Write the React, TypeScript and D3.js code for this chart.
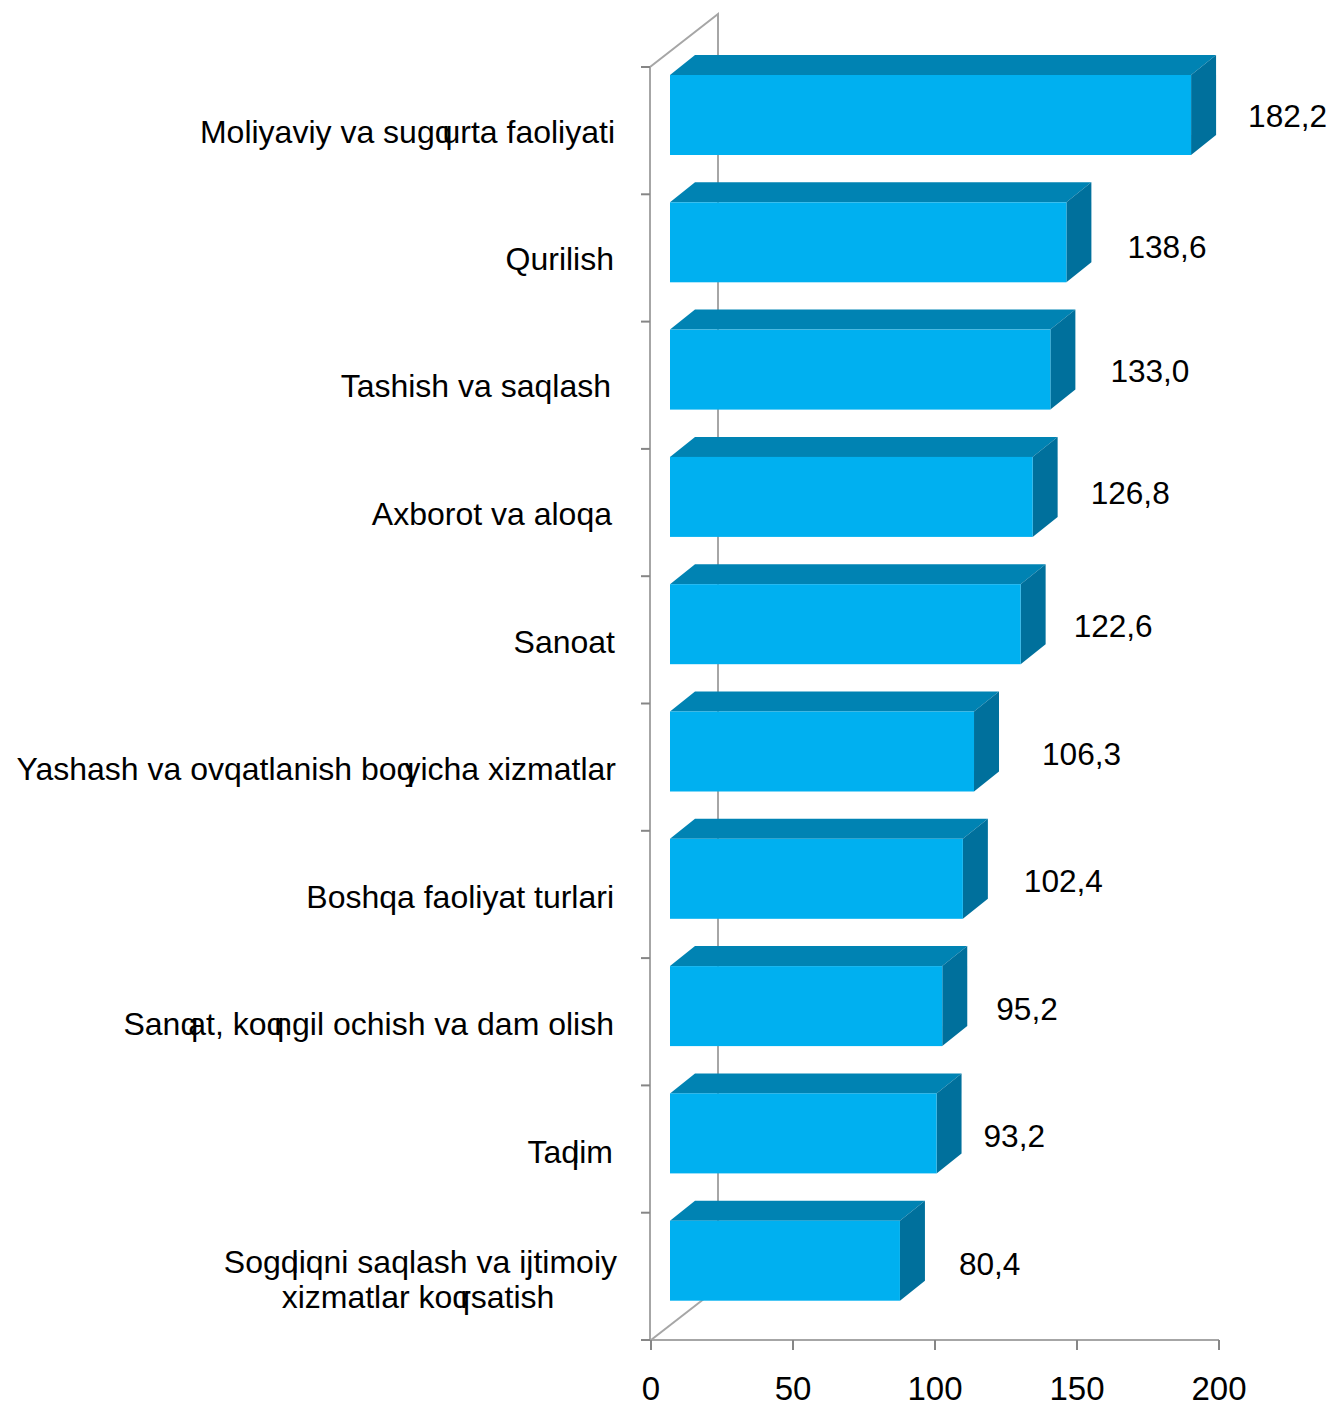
import React from "react";
import * as d3 from "d3";

const categories = [
  "Moliyaviy va sugq|urta faoliyati",
  "Qurilish",
  "Tashish va saqlash",
  "Axborot va aloqa",
  "Sanoat",
  "Yashash va ovqatlanish boq|yicha xizmatlar",
  "Boshqa faoliyat turlari",
  "Sanq|at, koq|ngil ochish va dam olish",
  "Taq|lim",
  "Sogq|liqni saqlash va ijtimoiy\nxizmatlar koq|rsatish",
];
const values = [182.2, 138.6, 133.0, 126.8, 122.6, 106.3, 102.4, 95.2, 93.2, 80.4];
const xTicks = [0, 50, 100, 150, 200];

// manual label placement, as the original chart had hand-dragged labels
const labelRight = [615, 614, 611, 612, 615, 616, 614, 614, 613, 617];
const labelNudgeY = [1, 1, 1, 1, 2, 2, 3, 2, 3, 0];
const valueGap = [32, 36, 35, 33, 28, 43, 36, 29, 22, 34];
const valueCenterY = [116, 247, 371, 493, 626, 754, 881, 1009, 1136, 1264];

const FONT = "'Liberation Sans', Arial, sans-serif";
const FS_VALUE = 31.6;
const FS_CAT = 32;
const FS_TICK = 33;
const GRAY = "#A6A6A6";
const DEPTH_X = 25;
const DEPTH_Y = 20;
const OVERLAP = -10;
const OVERLAP_L = -7;

const xFloor = d3.scaleLinear().domain([0, 200]).range([651, 1219]);
const xFront = d3.scaleLinear().domain([0, 200]).range([670, 1242]);
const yTick = d3.scaleLinear().domain([0, categories.length]).range([67, 1340]);
const pathOf = (pts: [number, number][]) => d3.line()(pts) + "Z";
const fmt = (v: number) => v.toFixed(1).replace(".", ",");

function Line({ text, x, y, anchor }: { text: string; x: number; y: number; anchor: string }) {
  const parts = text.split("|");
  return (
    <text x={x} y={y} textAnchor={anchor} fontFamily={FONT} fontSize={FS_CAT} fill="#000">
      {parts.map((p, i) => (
        <tspan key={i} dx={i === 0 ? 0 : p.startsWith("l") ? OVERLAP_L : OVERLAP}>{p}</tspan>
      ))}
    </text>
  );
}

export default function App() {
  const bars = values.map((v, i) => {
    const top = yTick(i) + 8;
    const bottom = top + 80;
    return { v, i, top, bottom, left: xFront(0), right: xFront(v) };
  });
  const backX = 718;
  return (
    <svg width={1331} height={1402} style={{ position: "absolute", left: 0, top: 0, background: "#fff" }}>
      {/* walls */}
      <g stroke={GRAY} strokeWidth={2} fill="none">
        <path d={`M${xFloor(0) - 1},${yTick(0)}V${yTick(10)}`} />
        <path d={`M${xFloor(0) - 1},${yTick(0)}L${backX},14V1288`} />
        <path d={`M${xFloor(0)},${yTick(10)}L${backX},1288`} />
        <path d={`M${xFloor(0) - 1},${yTick(10)}H${xFloor(200)}`} />
      </g>
      <g stroke="#868686" strokeWidth={2}>
        {d3.range(categories.length + 1).map((i) => (
          <line key={i} x1={641} x2={650} y1={yTick(i)} y2={yTick(i)} />
        ))}
        {xTicks.map((t) => (
          <line key={t} x1={xFloor(t)} x2={xFloor(t)} y1={1340} y2={1350} />
        ))}
      </g>
      {xTicks.map((t) => (
        <text key={t} x={xFloor(t)} y={1400} textAnchor="middle" fontFamily={FONT} fontSize={FS_TICK} fill="#000">{t}</text>
      ))}
      {/* bars */}
      {bars.map((b) => (
        <g key={b.i}>
          <path d={pathOf([[b.left, b.top], [b.left + DEPTH_X, b.top - DEPTH_Y], [b.right + DEPTH_X, b.top - DEPTH_Y], [b.right, b.top]])} fill="#0083B3" />
          <path d={pathOf([[b.right, b.top], [b.right + DEPTH_X, b.top - DEPTH_Y], [b.right + DEPTH_X, b.bottom - DEPTH_Y], [b.right, b.bottom]])} fill="#00709C" />
          <rect x={b.left} y={b.top} width={b.right - b.left} height={b.bottom - b.top} fill="#00B0F0" />
        </g>
      ))}
      {/* value labels */}
      {bars.map((b) => (
        <text key={b.i} x={b.right + DEPTH_X + valueGap[b.i]} y={valueCenterY[b.i]} dy="0.36em" fontFamily={FONT} fontSize={FS_VALUE} fill="#000">{fmt(b.v)}</text>
      ))}
      {/* category labels */}
      {categories.map((c, i) => {
        const lines = c.split("\n");
        const cy = (yTick(i) + yTick(i + 1)) / 2 + labelNudgeY[i];
        if (lines.length === 1) {
          return <Line key={i} text={c} x={labelRight[i]} y={cy + 11} anchor="end" />;
        }
        return (
          <g key={i}>
            <Line text={lines[0]} x={labelRight[i]} y={1273} anchor="end" />
            <Line text={lines[1]} x={418} y={1308} anchor="middle" />
          </g>
        );
      })}
    </svg>
  );
}
